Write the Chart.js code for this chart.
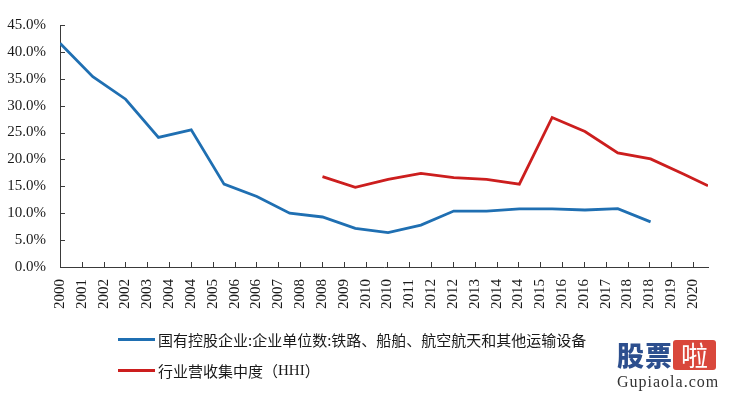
<!DOCTYPE html>
<html>
<head>
<meta charset="utf-8">
<script src="https://cdn.jsdelivr.net/npm/chart.js@4/dist/chart.umd.min.js"></script>
<style>
  html, body { margin: 0; padding: 0; background: #fff; }
  #wrap { position: relative; width: 733px; height: 397px; overflow: hidden; }
  canvas { position: absolute; left: 0; top: 0; }
  .leg { position: absolute; left: 118px; height: 20px; display: flex; align-items: center; font-family: 'Noto Sans CJK SC', sans-serif; font-size: 15px; color: #1a1a1a; white-space: nowrap; }
  .leg .ln { width: 37px; height: 3px; margin-right: 3px; }
  .leg .ser { font-family: 'Liberation Serif', serif; }
  #wm { position: absolute; left: 617px; top: 340px; width: 112px; font-family: 'Noto Sans CJK SC', sans-serif; }
  #wm .gp { font-size: 27px; font-weight: 900; color: #2d4f8e; letter-spacing: 1px; line-height: 30px; }
  #wm .la { display: inline-block; background: #d9473b; color: #fff; font-size: 27px; line-height: 30px; padding: 0 8px; border-radius: 3px; font-weight: 400; }
  #wm .dom { font-family: 'Liberation Serif', serif; font-size: 16px; letter-spacing: 1px; color: #333; margin-top: 2px; }
</style>
</head>
<body>
<div id="wrap">
  <canvas id="c" width="733" height="397"></canvas>
  <div class="leg" style="top:329px"><div class="ln" style="background:#1f6fb2"></div>国有控股企业:企业单位数:铁路、船舶、航空航天和其他运输设备</div>
  <div class="leg" style="top:360px"><div class="ln" style="background:#cc1e1e"></div>行业营收集中度（<span class="ser">HHI</span>）</div>
  <div id="wm"><span class="gp">股票</span><span class="la">啦</span><div class="dom">Gupiaola.com</div></div>
</div>
<script>
// Data (x = year-end as decimal year; last HHI point is Sep 2020)
const blueX = [2000, 2001, 2002, 2003, 2004, 2005, 2006, 2007, 2008, 2009, 2010, 2011, 2012, 2013, 2014, 2015, 2016, 2017, 2018];
const blueVals = [41.6, 35.4, 31.2, 24.1, 25.5, 15.4, 13.1, 10.0, 9.3, 7.2, 6.4, 7.8, 10.4, 10.4, 10.8, 10.8, 10.6, 10.85, 8.4];
const redX = [2008, 2009, 2010, 2011, 2012, 2013, 2014, 2015, 2016, 2017, 2018, 2019, 2019.75];
const redVals = [16.8, 14.8, 16.3, 17.4, 16.6, 16.3, 15.4, 27.8, 25.2, 21.2, 20.1, 17.3, 15.1];
const xTickLabels = ['2000','2001','2002','2002','2003','2004','2004','2005','2006','2006','2007','2008','2008','2009','2010','2010','2011','2012','2012','2013','2014','2014','2015','2016','2016','2017','2018','2018','2019','2020'];
const seriesNames = ['国有控股企业:企业单位数:铁路、船舶、航空航天和其他运输设备', '行业营收集中度（HHI）'];

const tickStepYears = 243 / 365.25; // major unit of the date axis
const axisColor = '#3a3a3a';
const serif = "'Liberation Serif', 'Times New Roman', serif";

const insideTicks = {
  id: 'insideTicks',
  afterDraw(chart) {
    const ctx = chart.ctx;
    const xs = chart.scales.x, ys = chart.scales.y;
    ctx.save();
    ctx.strokeStyle = axisColor;
    ctx.lineWidth = 1;
    ctx.beginPath();
    xs.ticks.forEach(t => {
      const px = Math.round(xs.getPixelForValue(t.value)) + 0.5;
      ctx.moveTo(px, xs.top);
      ctx.lineTo(px, xs.top - 5);
    });
    ys.ticks.forEach(t => {
      const py = Math.round(ys.getPixelForValue(t.value)) + 0.5;
      ctx.moveTo(ys.right, py);
      ctx.lineTo(ys.right + 5, py);
    });
    ctx.stroke();
    ctx.restore();
  }
};

new Chart(document.getElementById('c'), {
  type: 'line',
  data: {
    datasets: [
      { label: seriesNames[0], data: blueX.map((x, i) => ({ x, y: blueVals[i] })), borderColor: '#1f6fb2', borderWidth: 2.8, pointRadius: 0, tension: 0, fill: false },
      { label: seriesNames[1], data: redX.map((x, i) => ({ x, y: redVals[i] })), borderColor: '#cc1e1e', borderWidth: 2.8, pointRadius: 0, tension: 0, fill: false }
    ]
  },
  options: {
    responsive: false,
    animation: false,
    layout: { padding: { top: 25, right: 25, left: 0, bottom: 0 } },
    plugins: { legend: { display: false }, tooltip: { enabled: false } },
    scales: {
      x: {
        type: 'linear',
        min: blueX[0],
        max: redX[redX.length - 1],
        afterBuildTicks(scale) {
          scale.ticks = xTickLabels.map((_, k) => ({ value: blueX[0] + k * tickStepYears }));
        },
        afterFit(scale) { scale.height = 130; },
        grid: { display: true, drawOnChartArea: false, drawTicks: false },
        border: { display: true, color: axisColor, width: 1 },
        ticks: {
          autoSkip: false, minRotation: 90, maxRotation: 90, padding: 12,
          color: '#1a1a1a', font: { family: serif, size: 15 },
          callback: (v, i) => xTickLabels[i]
        }
      },
      y: {
        min: 0, max: 45,
        afterFit(scale) { scale.width = 60; },
        grid: { display: true, drawOnChartArea: false, drawTicks: false },
        border: { display: true, color: axisColor, width: 1 },
        ticks: {
          stepSize: 5, padding: 14,
          color: '#1a1a1a', font: { family: serif, size: 15 },
          callback: v => v.toFixed(1) + '%'
        }
      }
    }
  },
  plugins: [insideTicks]
});
</script>
</body>
</html>
